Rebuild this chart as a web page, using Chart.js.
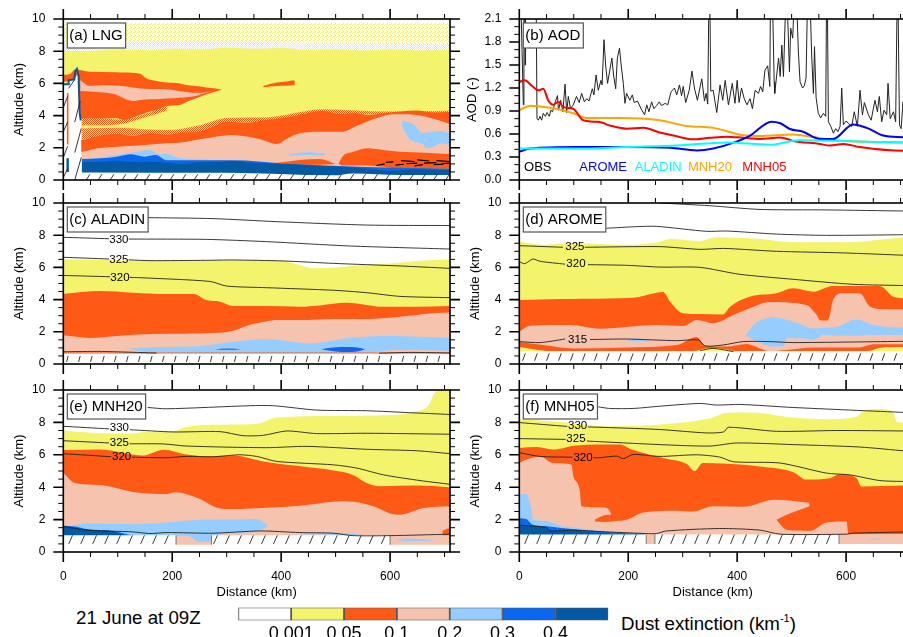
<!DOCTYPE html>
<html>
<head>
<meta charset="utf-8">
<title>Dust extinction cross-sections</title>
<script src="https://cdn.jsdelivr.net/npm/chart.js@4"></script>
<style>
html, body { margin: 0; padding: 0; width: 903px; height: 637px; overflow: hidden; background: #fff; }
canvas { position: absolute; }
.note { position: absolute; font-family: "Liberation Sans", Arial, sans-serif; color: #000; white-space: nowrap; }
sup { font-size: 11px; vertical-align: 8px; line-height: 0; }
</style>
</head>
<body>
<div class="note" style="left:76px;top:607px;font-size:18.7px">21 June at 09Z</div>
<div class="note" style="left:621px;top:613px;font-size:18.7px">Dust extinction (km<sup>-1</sup>)</div>
<script>
'use strict';

// colour bar
const levelLabels = ['0.001', '0.05', '0.1', '0.2', '0.3', '0.4'];
const binColors = ['#ffffff', '#f4f36c', '#fe5a16', '#f6c4ae', '#96cdff', '#0a68f0', '#035aa2'];
const [WHITE, YELLOW, ORANGE, PEACH, SKY, BLUE, NAVY] = binColors;

// axes
const distanceLabels = [0, 200, 400, 600];
const altitudeLabels = [0, 2, 4, 6, 8, 10];

// (b) AOD: [km, AOD]
const obsAod = [[3,2.3],[7.4,0.98],[8.5,2.3],[10,2.3],[10.5,1.5],[11.5,2.3],[31,2.3],[32.5,0.8],[35,0.78],[38,0.83],[41,0.78],[44,0.87],[48,0.83],[51,0.88],[55,0.83],[58,0.91],[61,0.89],[65.5,1.01],[70,1.1],[72,0.91],[76,1.04],[80,0.89],[84,1.25],[87,0.88],[90,1.09],[94,0.93],[99,0.98],[105,1.09],[110,1.01],[114.5,1.13],[119.4,1.02],[124,1.06],[128,1.03],[134,1.19],[137,1.11],[141,1.37],[145,1.17],[150,1.3],[152,1.24],[155.5,1.83],[158.5,1.5],[162,1.26],[170,1.59],[173,1.37],[177,1.19],[180,1.59],[184,1.72],[187,1.5],[191,1.26],[194,1.0],[197,1.13],[203,1.04],[207.5,1.11],[211,1.01],[217,1.03],[223.5,0.93],[230,0.85],[234,0.98],[238,0.89],[243,1.02],[247,0.93],[252,0.97],[257,1.02],[261,0.97],[268,1.0],[272.5,0.98],[278.6,1.15],[285,1.2],[289,1.11],[294,1.24],[298,1.1],[301,1.22],[305.5,1.01],[312,1.17],[317,1.42],[321.5,1.2],[327,1.04],[335,1.32],[340,1.03],[343,1.13],[346,0.99],[348,2.3],[350,2.3],[351.5,1.16],[356,1.17],[362.5,0.88],[368.6,1.24],[373.5,1.04],[378,1.3],[384,0.98],[391,1.26],[396,1.0],[400,1.3],[403.5,1.01],[408,1.2],[413,1.06],[418,0.98],[423.7,1.06],[428,0.93],[433,1.17],[439,1.13],[443,1.22],[447,1.15],[451,1.43],[456,1.49],[460,1.22],[461,2.3],[465,2.3],[468,1.28],[469,1.13],[476,1.59],[479,1.35],[482,1.76],[485,1.35],[489,2.3],[492,2.3],[496,1.41],[498.3,1.98],[502,1.85],[504.5,2.3],[509.4,2.3],[512.4,1.67],[515.5,1.28],[520,1.2],[523.4,1.23],[526.5,1.33],[529,2.3],[534,2.3],[537,1.59],[540,1.13],[542,1.74],[545,1.07],[549,0.87],[553.4,0.81],[558.3,0.87],[562.6,0.83],[564,2.3],[565.7,2.3],[567.5,0.76],[572,0.7],[576.7,0.61],[581,0.67],[585,0.63],[589,0.7],[592,1.2],[595,0.72],[600,0.77],[604,0.74],[610.3,0.7],[615,0.89],[620.7,0.7],[625.6,1.17],[630,0.85],[633.6,1.01],[641,0.85],[646,0.78],[653,1.04],[657.5,0.89],[661,1.09],[665.4,0.76],[669.7,0.91],[674.6,0.85],[677,1.26],[681,0.8],[687,0.89],[691,0.76],[693.6,2.3],[695.4,2.3],[698,0.72],[701,0.67],[704.6,1.02],[707,0.78],[710,1.0]];
const mnh05Aod = [[0,1.28],[10,1.3],[23,1.23],[35,1.17],[44,1.19],[53,1.04],[62,0.98],[72,1.02],[81,0.95],[99,0.93],[117,0.78],[136,0.76],[151,0.75],[166,0.71],[197,0.67],[228,0.68],[258,0.62],[289,0.57],[319,0.53],[350,0.55],[381,0.565],[411,0.55],[442,0.535],[479,0.555],[503,0.51],[552,0.47],[570,0.45],[595,0.47],[625,0.43],[704,0.38],[710,0.38]];
const mnh20Aod = [[0,0.91],[20,0.97],[62,0.935],[99,0.87],[124,0.81],[185,0.81],[258,0.78],[307,0.705],[356,0.68],[411,0.585],[442,0.575],[503,0.595],[540,0.56],[583,0.515],[710,0.49]];
const aromeAod = [[0,0.37],[20,0.41],[105,0.43],[197,0.43],[277,0.42],[326,0.385],[356,0.41],[399,0.5],[423,0.575],[463,0.76],[479,0.74],[497,0.665],[521,0.63],[552,0.535],[576,0.535],[613,0.725],[638,0.68],[668,0.58],[704,0.557],[710,0.555]];
const aladinAod = [[0,0.41],[105,0.41],[197,0.43],[289,0.45],[381,0.49],[460,0.46],[515,0.52],[595,0.51],[710,0.485]];
const aodLegendNames = ['OBS', 'AROME', 'ALADIN', 'MNH20', 'MNH05'];
const aodLegendColors = ['#000000', '#0000ff', '#00ffff', '#ffa500', '#ff0000'];
const aodLegendKm = [34, 154, 255, 350, 450];

// (a) LNG: [km, top] or [km, top, bottom]
const aSpeckle = [[0,9.75,8],[710,9.75,8]];
const aSpeckleDense = [[0,8.5,8],[200,8.6,8],[400,8.55,8],[710,8.45,8]];
const aYellow = [[0,8.0],[60,8.03],[100,8.1],[160,8.06],[200,8.15],[260,8.12],[300,8.22],[350,8.15],[400,8.2],[450,8.08],[500,8.12],[550,8.04],[600,8.12],[650,8.05],[710,8.08]];
const aFringe = [[34,3.2,2.5],[100,3.25,2.8],[190,3.1,2.7],[250,3.4,2.9],[300,3.85,3.5],[373,3.9,3.6],[477,4.4,4.1],[600,4.25,4.1],[710,4.3,4.2]];
const aFringeHigh = [[34,3.9,3.4],[70,3.85,3.4],[110,3.75,3.5],[150,4.1,3.9],[190,4.6,4.3]];
const aOrangeHigh = [[0,6.52,6.1],[13,6.6,6.1],[21,6.87,3.83],[49,6.73,3.83],[98,6.7,3.83],[110,6.68,3.73],[141,6.6,4.04],[153,6.3,4.2],[171,6.15,4.35],[190,6.05,4.6],[214,6.0,4.66],[226,5.9,4.85],[239,5.85,5.01],[263,5.75,5.32],[280,5.68,5.5],[291,5.62,5.6]];
const aPeachHigh = [[31,6.2,5.53],[49,5.84,5.5],[73,5.88,5.44],[98,5.86,5.3],[104,5.85,5.18],[128,5.75,4.9],[141,5.69,4.97],[177,5.65,5.03],[190,5.63,5.06],[214,5.52,5.11],[245,5.42,5.24],[263,5.45,5.42],[272,5.55,5.53]];
const aOrangeDot = [[367,5.84,5.76],[392,6.05,5.84],[410,6.12,5.85],[425,6.19,5.9]];
const aOrangeLow = [[0,2.48],[34,2.48],[60,2.7],[98,2.86],[130,2.75],[160,2.9],[190,2.8],[220,2.95],[251,3.0],[275,3.3],[300,3.62],[335,3.55],[373,3.73],[405,3.85],[434,4.04],[455,4.2],[477,4.29],[505,4.1],[532,4.15],[560,4.05],[588,4.14],[620,4.25],[649,4.31],[680,4.2],[710,4.24]];
const aPeachLow = [[0,1.76],[34,1.76],[60,1.95],[98,2.07],[140,2.15],[190,2.28],[220,2.35],[251,2.53],[285,2.72],[312,2.8],[340,2.68],[361,2.53],[392,2.24],[412,2.6],[434,2.9],[471,3.0],[514,3.0],[535,3.3],[557,3.62],[580,3.9],[606,4.08],[649,4.04],[680,3.8],[710,3.48]];
const aOrangeRight = [[505,1.0,1.0],[514,1.5,0.9],[530,1.72,0.9],[557,1.97,0.9],[590,1.85,0.8],[618,1.76,0.7],[665,1.7,0.7],[710,1.61,0.7]];
const aOrangeThin = [[390,1.05,1.05],[434,1.25,0.95],[470,1.3,0.95],[500,1.0,1.0]];
const aSkyHigh = [[622,3.68,3.31],[637,3.55,2.48],[643,3.48,2.4],[661,2.9,2.2],[667,2.95,1.97],[679,3,2.05],[692,3.05,2.28],[710,2.9,2.17]];
const aSkyLow = [[34,1.24,0.9],[70,1.4,0.9],[98,1.55,0.9],[125,1.7,0.9],[159,1.86,0.9],[175,1.6,0.9],[190,1.61,0.9],[214,1.35,0.9],[263,1.28,0.9],[324,1.03,0.9]];
const aSkyBit = [[415,1.62,1.5],[450,1.72,1.55],[480,1.65,1.5]];
const aBlue = [[34,1.3],[70,1.35],[98,1.45],[125,1.6],[150,1.45],[170,1.55],[190,1.22],[312,1.22],[404,1.03],[557,0.8],[710,0.7]];
const aNavy = [[34,1.1],[65,1.14],[98,1.2],[130,1.12],[159,1.14],[190,1.08],[215,1.0],[250,1.1],[285,1.12],[312,1.18],[345,1.06],[375,1.03],[404,0.99],[435,0.95],[465,0.89],[510,0.82],[557,0.72],[600,0.58],[625,0.62],[649,0.68],[680,0.62],[710,0.62]];
const aTerrain = [[0,5.95],[9,5.95],[10,6.2],[21,6.25],[25,6.5],[28,6.4],[30,4.0],[32,3.7],[33.5,1.1],[34,0.47],[300,0.45],[496,0.29],[532,0.41],[618,0.31],[710,0.31]];
const aPeakEdge = [[0,5.95],[9,5.95],[10,6.2],[20,6.25],[22,6.75],[25,6.9],[28,6.5],[30,4.2],[32,3.7]];
const aOrangeBar = [[8,2.2],[8,5.4]];
const aNavyBar = [[8,0.5],[8,1.35]];
const aTallHatch = [[0,3],[8,3.6],null,[0,1.4],[8,2.1],null,[0,0.15],[8,0.7],null,[0,4.5],[8,5.2],null,[21,0],[33,1.4],null,[21,1.7],[33,3.2],null,[21,3.6],[31,4.9],null,[10,5.7],[21,6.25]];
const aSpecks = [[575,0.9],[590,1.0],null,[592,1.1],[606,1.12],null,[610,0.92],[625,0.98],null,[620,1.2],[645,1.15],null,[630,1.02],[650,1.05],null,[645,0.88],[660,0.95],null,[650,1.25],[672,1.18],null,[662,1.05],[685,1.08],null,[680,0.95],[698,0.98],null,[685,1.2],[710,1.15],null,[695,1.02],[710,1.05]];

// (c) ALADIN
const cYellow = [[0,6.5],[100,6.45],[200,6.4],[300,6.45],[400,6.4],[430,6.2],[459,5.95],[500,6.0],[550,6.15],[600,6.25],[650,6.4],[710,6.5]];
const cOrange = [[0,4.35],[67,4.53],[128,4.43],[190,4.35],[239,4.35],[263,3.97],[288,3.87],[312,3.6],[373,3.6],[434,3.56],[471,3.64],[520,3.8],[557,3.66],[581,3.56],[649,3.56],[710,3.6]];
const cPeach = [[0,1.78],[49,1.62],[98,1.74],[159,1.86],[220,1.88],[275,1.92],[312,2.07],[337,2.38],[374,2.65],[392,2.73],[434,2.73],[496,2.8],[557,2.8],[618,2.94],[679,3.15],[710,3.2]];
const cSky = [[116,0.93,0.93],[145,1.03,0.78],[171,1.06,0.72],[239,1.08,0.68],[312,1.38,0.66],[374,1.55,0.68],[410,1.43,0.68],[453,1.28,0.68],[526,1.63,0.7],[557,1.7,0.7],[581,1.74,0.78],[606,1.74,0.87],[649,1.7,0.87],[710,1.63,0.83]];
const cBlueA = [[278,0.92,0.92],[302,0.97,0.88],[327,0.92,0.92]];
const cBlueB = [[474,0.92,0.92],[500,1.04,0.78],[520,1.06,0.75],[540,1.02,0.78],[554,0.9,0.9]];
const cStrip = [[0,0.72],[710,0.72]];
const cTerrain = [[0,0.65],[710,0.65]];
const cLine1 = [[155,9.09],[275,9.03],[392,8.84],[557,8.63],[710,8.6]];
const cLine2 = [[0,7.87],[84,7.78],null,[120,7.76],[263,7.74],[373,7.6],[526,7.33],[710,7.14]];
const cLine3 = [[0,6.63],[84,6.52],null,[120,6.47],[159,6.42],[263,6.44],[312,6.46],[404,6.4],[496,6.25],[618,6.09],[710,5.94]];
const cLine4 = [[0,5.5],[86,5.42],null,[122,5.38],[141,5.36],[269,5.13],[300,4.84],[373,4.74],[496,4.58],[557,4.43],[618,4.2],[710,4.12]];
const cLine5 = [[0,0.76],[70,0.78],[171,0.68],null,[580,0.67],[640,0.72],[710,0.68]];
const cTags = [[102,7.72,'330'],[102,6.46,'325'],[104,5.34,'320']];

// (d) AROME
const dYellow = [[0,7.6],[44,7.4],[93,7.5],[197,7.4],[252,7.54],[277,7.76],[332,7.64],[362,7.87],[442,7.76],[503,7.56],[607,7.56],[656,7.7],[710,7.9]];
const dOrange = [[0,3.98],[75,4.04],[117,4.06],[209,4.12],[252,4.43],[264,4.47],[277,3.87],[301,3.15],[332,3.1],[374,3.08],[387,3.56],[423,4.18],[472,4.39],[503,4.7],[540,4.49],[576,4.84],[662,4.84],[687,4.18],[710,4.08]];
const dPeach = [[0,2.0],[20,2.38],[93,2.42],[148,2.19],[252,2.42],[301,2.36],[326,2.73],[356,2.53],[393,3.04],[423,3.46],[460,3.85],[527,3.66],[546,3.04],[552,2.72],[565,2.7],[570,3.0],[576,3.98],[595,4.39],[625,4.39],[644,3.56],[674,3.4],[710,3.4]];
const dSkyBit = [[197,1.42,1.4],[215,1.58,1.42],[240,1.45,1.4]];
const dSky = [[416,1.8,1.8],[436,2.63,1.38],[442,2.7,1.33],[460,2.9,1.08],[466,2.92,1.08],[485,2.8,1.08],[491,2.75,1.6],[503,2.63,1.6],[515,2.5,1.6],[540,2.2,1.5],[558,2.25,1.8],[583,2.32,1.76],[619,2.77,1.76],[650,2.42,1.8],[687,2.28,1.8],[710,2.26,1.8]];
const dOrangeLow = [[0,1.37],[44,1.18],[99,0.97],[197,1.03],[289,1.18],[326,1.68],[341,1.12],[381,1.08],[417,1.24],[442,0.97],[460,0.8],[491,0.87],[540,1.03],[625,1.03],[650,1.22],[710,1.22]];
const dYellowLow = [[0,1.05],[20,0.95],[60,0.8],[320,0.8],[340,0.95],[356,1.0],[380,0.92],[400,0.8],[640,0.8],[660,1.0],[710,1.05]];
const dTerrain = [[0,0.77],[710,0.77]];
const dLine1 = [[258,10],[350,9.83],[442,9.6],[564,9.57],[710,9.5]];
const dLine2 = [[160,8.43],[215,8.53],[252,8.55],[344,8.24],[381,8.26],[472,8.07],[564,7.99],[710,8.03]];
const dLine3 = [[0,7.35],[80,7.25],null,[120,7.25],[258,7.29],[332,7.12],[375,7.18],[472,7],[595,6.9],[710,6.75]];
const dLine4 = [[0,6.36],[10,6.23],[25,6.52],[38,6.38],[84,6.2],null,[126,6.17],[197,6.13],[258,6.02],[332,6.0],[405,5.57],[503,5.26],[613,4.95],[710,4.87]];
const dLine5 = [[0,1.39],[38,1.33],[84,1.55],null,[130,1.52],[197,1.55],[289,1.45],[329,1.49],[341,1.12],[374,1.18],[411,1.39],[460,1.39],[503,1.33],[710,1.41]];
const dLine6 = [[332,0.83],[356,0.97],[393,0.77]];
const dTags = [[102,7.25,'325'],[104,6.2,'320'],[107,1.52,'315']];

// (e) MNH20
const eYellow = [[0,7.5],[31,7.4],[116,7.3],[153,7.4],[202,7.45],[223,7.7],[275,7.85],[355,7.9],[392,8.3],[496,8.39],[600,8.45],[643,8.65],[673,9.17],[679,9.69],[688,9.96],[710,10]];
const eOrange = [[0,6.29],[67,6.33],[147,5.96],[184,6.31],[226,6.02],[275,5.9],[312,5.96],[373,5.55],[447,5.24],[496,5.03],[532,4.76],[557,4.26],[581,4.06],[649,4.1],[710,4.0]];
const ePeach = [[0,4.89],[21,4.26],[67,4.14],[92,4],[128,3.7],[190,3.58],[205,3.69],[251,3.27],[281,2.75],[312,2.65],[373,2.73],[434,2.86],[496,3.1],[520,3.13],[569,2.82],[600,2.38],[618,2.3],[661,2.71],[710,2.82]];
const eSky = [[0,1.55,1.0],[49,1.76,1.0],[128,1.72,1.0],[190,1.82,1.0],[226,1.93,1.0],[251,1.98,0.62],[269,2.0,0.64],[281,2.0,1.03],[355,2.03,1.25],[376,1.61,1.6]];
const eSkyThin = [[435,1.15,1.08],[480,1.2,1.08],[520,1.15,1.03],[545,1.08,1.03]];
const eSkyDot = [[608,0.74,0.74],[630,0.83,0.68],[660,0.78,0.68],[680,0.72,0.72]];
const eBlue = [[0,1.62],[21,1.58],[43,1.42],[92,1.3],[125,1.03]];
const eNavy = [[0,1.57],[21,1.52],[43,1.37],[92,1.26],[113,1.03]];
const eOrangeDot = [[696,1.3,1.03],[703,1.42,1.03],[710,1.47,1.03]];
const eTerrainLow = [[0,0.45],[710,0.45]];
const eHatchA = [[0,1.03],[207,1.03]];
const eHatchB = [[272,1.03],[600,1.03]];
const eEdges = [[207,0.45],[207,1.03],null,[272,0.45],[272,1.03],null,[600,0.45],[600,1.03]];
const eLine1 = [[155,8.92],[190,8.84],[343,9.03],[386,9.03],[465,8.76],[557,8.72],[636,8.6],[710,8.49]];
const eLine2 = [[0,7.76],[84,7.6],null,[122,7.55],[202,7.41],[288,7.43],[330,7.18],[367,7.2],[410,7.47],[465,7.31],[557,7.33],[710,7.27]];
const eLine3 = [[0,6.87],[84,6.73],null,[122,6.68],[184,6.67],[226,6.54],[373,6.44],[447,6.52],[557,6.34],[649,6.25],[710,6.07]];
const eLine4 = [[0,6.07],[88,5.88],null,[126,5.85],[190,5.82],[226,5.9],[275,5.88],[324,6],[355,5.9],[392,5.59],[496,5.38],[539,5.18],[588,4.76],[655,4.41],[710,4.18]];
const eLine5 = [[0,1.57],[43,1.35],[128,1.24],[159,1.14],[190,1.2],[275,1.16],[361,1.3],[434,1.2],[496,1.16],[532,1.01],[600,1.01],[710,1.1]];
const eTags = [[103,7.68,'330'],[103,6.72,'325'],[107,5.86,'320']];

// (f) MNH05
const fYellow = [[0,8.2],[75,8.03],[166,7.76],[258,7.87],[350,8.24],[381,8.59],[423,8.61],[503,8.3],[564,8.2],[619,8.34],[632,8.72],[662,8.82],[687,8.59],[693,8.03],[710,8.0]];
const fOrange = [[0,6.42],[32,6.48],[62,6.33],[105,6.58],[185,6.63],[203,6.38],[240,6],[270,5.76],[307,5.44],[322,4.99],[337,5.49],[381,5.44],[442,5.28],[503,4.93],[527,4.47],[570,4.55],[588,4.8],[619,4.57],[628,4.04],[710,4.1]];
const fPeach = [[0,5.5],[13,5.71],[38,5.9],[62,5.5],[96,5.38],[99,4.72],[111,3.79],[114,2.82],[154,2.75],[166,2.55],[170,2.2],[178,1.92],[197,1.99],[228,2.44],[289,2.55],[319,2.5],[356,2.82],[411,2.8],[469,3.23],[530,3.06],[533,2.82],[534,1.3],[564,1.82],[601,1.88],[604,1.1],[710,1.1]];
const fOrangeTongue = [[139,2.0,1.88],[155,2.25,1.85],[170,2.3,1.88],[178,1.92,1.92]];
const fOrangeWedge = [[472,1.99,1.99],[491,2.3,1.37],[534,2.84,1.3]];
const fSky = [[0,3.58],[13,3.58],[21,2.86],[26,1.99],[50,1.93],[75,1.61],[99,1.51],[150,1.3],[225,1.15]];
const fBlue = [[0,2.09],[13,2.03],[23,1.72],[47,1.6],[100,1.4],[166,1.22],[230,1.12]];
const fNavy = [[0,1.66],[20,1.61],[49,1.55],[55,1.3],[99,1.35],[124,1.24],[166,1.14]];
const fPeachFoot = [[587,1.1],[710,1.1]];
const fSkyDot = [[640,0.78,0.78],[652,0.83,0.75],[665,0.78,0.78]];
const fTerrainLow = [[0,0.5],[710,0.5]];
const fHatchA = [[0,1.08],[233,1.08]];
const fHatchB = [[249,1.08],[587,1.08]];
const fEdges = [[233,0.5],[233,1.08],null,[249,0.5],[249,1.08],null,[587,0.5],[587,1.08]];
const fLine1 = [[145,8.96],[166,8.86],[209,8.86],[258,9.0],[332,9.17],[362,9.07],[405,9.11],[503,8.92],[710,8.61]];
const fLine2 = [[0,7.99],[88,7.75],null,[126,7.72],[166,7.68],[258,7.56],[344,7.35],[375,7.41],[384,7.7],[472,7.45],[583,7.5],[710,7.47]];
const fLine3 = [[0,7],[85,6.95],null,[124,6.85],[258,6.63],[350,6.54],[399,6.73],[503,6.63],[625,6.48],[710,6.23]];
const fLine4 = [[0,6.13],[38,5.9],[98,5.85],null,[136,5.82],[148,5.82],[179,5.92],[191,5.76],[209,6.02],[258,5.9],[326,6],[368,5.86],[393,5.57],[479,5.49],[564,4.87],[607,4.76],[662,4.41],[710,4.35]];
const fLine5 = [[0,1.66],[50,1.51],[56,1.3],[99,1.35],[148,1.26],[233,1.14],[252,1.14],[270,1.3],[368,1.45],[442,1.35],[479,1.1],[600,1.1],[613,1.16],[710,1.24]];
const fTags = [[107,7.76,'330'],[104,6.98,'325'],[117,5.84,'320']];

function xy(rows) {
    return rows.map(r => r ? { x: r[0], y: r[1] } : { x: null, y: null });
}

function stipple(dot, ground, cells) {
    const c = document.createElement('canvas');
    c.width = 4; c.height = 4;
    const g = c.getContext('2d');
    g.fillStyle = ground;
    g.fillRect(0, 0, 4, 4);
    g.fillStyle = dot;
    cells.forEach(p => g.fillRect(p[0], p[1], 1, 1));
    return g.createPattern(c, 'repeat');
}

// filled contour region: to the ground for [km, top], between two curves for [km, top, bottom]
function area(rows, color) {
    const base = { pointRadius: 0, borderWidth: 0, cubicInterpolationMode: 'monotone' };
    if (rows[0].length === 2) {
        return [Object.assign({}, base, { data: xy(rows), fill: 'origin', backgroundColor: color })];
    }
    return [
        Object.assign({}, base, { data: xy(rows), fill: '+1', backgroundColor: color }),
        Object.assign({}, base, { data: rows.map(r => ({ x: r[0], y: r[2] })), fill: false })
    ];
}

function line(rows, color, width, mono) {
    return [{
        data: xy(rows), borderColor: color, borderWidth: width, pointRadius: 0, fill: false,
        cubicInterpolationMode: mono ? 'monotone' : 'default', tension: 0
    }];
}

function contour(rows) {
    return line(rows, '#222', 0.9, false).map(d => Object.assign(d, { tension: 0.25 }));
}

// terrain slashes between two heights
function hatch(from, to, low, high, lean) {
    const rows = [];
    for (let x = from; x + lean <= to; x += 22) {
        rows.push([x, low], [x + lean, high], null);
    }
    return line(rows, '#222', 0.9, false);
}

const panelFrame = {
    id: 'panelFrame',
    afterDraw(chart, args, o) {
        const ctx = chart.ctx;
        const a = chart.chartArea;
        const xs = chart.scales.x;
        const ys = chart.scales.y;
        ctx.save();
        ctx.strokeStyle = '#000';

        (o.tags || []).forEach(t => {
            ctx.font = '11.5px "Liberation Sans"';
            ctx.textAlign = 'center';
            ctx.textBaseline = 'middle';
            ctx.fillStyle = '#000';
            ctx.fillText(t[2], xs.getPixelForValue(t[0]), ys.getPixelForValue(t[1]));
        });

        (o.words || []).forEach(t => {
            ctx.font = '13px "Liberation Sans"';
            ctx.textAlign = 'center';
            ctx.textBaseline = 'middle';
            ctx.fillStyle = t[3];
            ctx.fillText(t[2], xs.getPixelForValue(t[0]), ys.getPixelForValue(t[1]));
        });

        xs.ticks.forEach(t => {
            const major = distanceLabels.includes(t.value);
            const len = major ? 10 : 5;
            const px = xs.getPixelForValue(t.value);
            ctx.lineWidth = major ? 1.6 : 1;
            ctx.beginPath();
            ctx.moveTo(px, a.top); ctx.lineTo(px, a.top - len);
            ctx.moveTo(px, a.bottom); ctx.lineTo(px, a.bottom + len);
            ctx.stroke();
        });
        ys.ticks.forEach(t => {
            const major = o.isMajorY(t.value);
            const len = major ? 10 : 5;
            const py = ys.getPixelForValue(t.value);
            ctx.lineWidth = major ? 1.6 : 1;
            ctx.beginPath();
            ctx.moveTo(a.left, py); ctx.lineTo(a.left - len, py);
            ctx.moveTo(a.right, py); ctx.lineTo(a.right + len, py);
            ctx.stroke();
        });
        ctx.lineWidth = 1.6;
        ctx.strokeRect(a.left, a.top, a.right - a.left, a.bottom - a.top);

        // panel name box
        ctx.font = '15px "Liberation Sans"';
        ctx.textAlign = 'left';
        ctx.textBaseline = 'middle';
        const w = ctx.measureText(o.name).width + 5;
        ctx.fillStyle = '#fff';
        ctx.fillRect(a.left + 4, a.top + 4, w, 25);
        ctx.strokeStyle = '#555';
        ctx.lineWidth = 1.2;
        ctx.strokeRect(a.left + 4, a.top + 4, w, 25);
        ctx.fillStyle = '#000';
        ctx.fillText(o.name, a.left + 6, a.top + 17);
        ctx.restore();
    }
};

function noPadding(s) {
    s.paddingTop = 0;
    s.paddingBottom = 0;
    s.paddingLeft = 0;
    s.paddingRight = 0;
}

function panel(id, spec) {
    const canvas = document.createElement('canvas');
    canvas.id = id;
    canvas.width = 462;
    canvas.height = spec.labelled ? 224 : 186;
    canvas.style.left = spec.left + 'px';
    canvas.style.top = spec.top + 'px';
    document.body.appendChild(canvas);

    const sets = spec.sets.flat();
    sets.forEach((d, i) => { d.order = sets.length - i; });

    return new Chart(canvas, {
        type: 'line',
        data: { datasets: sets },
        plugins: [panelFrame],
        options: {
            responsive: false,
            animation: false,
            events: [],
            layout: { padding: { left: spec.titleLeft, right: 12, top: 14, bottom: 0 } },
            plugins: {
                legend: { display: false },
                tooltip: { enabled: false },
                panelFrame: { name: spec.name, tags: spec.tags, words: spec.words, isMajorY: spec.isMajorY }
            },
            scales: {
                x: {
                    type: 'linear', min: 0, max: 710,
                    grid: { display: false, drawTicks: false }, border: { display: false },
                    ticks: {
                        stepSize: 50, includeBounds: false, autoSkip: false, maxRotation: 0, padding: 17,
                        color: '#000', font: { size: 12, family: 'Liberation Sans' },
                        callback: v => (spec.labelled && distanceLabels.includes(v)) ? String(v) : ''
                    },
                    title: {
                        display: !!spec.labelled, text: 'Distance (km)', color: '#000',
                        font: { size: 13, family: 'Liberation Sans' }, padding: 0
                    },
                    afterFit(s) { s.height = spec.labelled ? 48 : 11; noPadding(s); }
                },
                y: {
                    min: 0, max: spec.yMax,
                    grid: { display: false, drawTicks: false }, border: { display: false },
                    ticks: {
                        stepSize: spec.yStep, includeBounds: false, autoSkip: false, padding: 18,
                        color: '#000', font: { size: 12, family: 'Liberation Sans' },
                        callback: spec.yLabel
                    },
                    title: {
                        display: true, text: spec.yTitle, color: '#000',
                        font: { size: 13, family: 'Liberation Sans' }, padding: 0
                    },
                    afterFit(s) { s.width = 63.3 - spec.titleLeft; noPadding(s); }
                }
            }
        }
    });
}

const altitudeAxis = {
    yMax: 10, yStep: 0.5, yTitle: 'Altitude (km)', titleLeft: 12,
    isMajorY: v => altitudeLabels.includes(v),
    yLabel: v => altitudeLabels.includes(v) ? String(v) : ''
};

const halfCells = [[0,0],[2,0],[1,1],[3,1],[0,2],[2,2],[1,3],[3,3]];
const thinCells = [[0,0],[2,1],[3,2],[1,3],[2,3]];
const speckle = stipple(YELLOW, '#ffffff', thinCells);
const speckleDense = stipple(YELLOW, '#ffffff', halfCells);
const orangeSpeckle = stipple(YELLOW, ORANGE, halfCells);

panel('panelA', Object.assign({}, altitudeAxis, {
    left: 0, top: 5, name: '(a) LNG',
    sets: [
        area(aSpeckle, speckle), area(aSpeckleDense, speckleDense), area(aYellow, YELLOW), area(aFringe, orangeSpeckle), area(aFringeHigh, orangeSpeckle),
        area(aOrangeHigh, ORANGE), area(aPeachHigh, PEACH), area(aOrangeDot, ORANGE),
        area(aOrangeLow, ORANGE), area(aPeachLow, PEACH), area(aOrangeRight, ORANGE), area(aOrangeThin, ORANGE),
        area(aSkyHigh, SKY), area(aSkyLow, SKY), area(aSkyBit, SKY), area(aBlue, BLUE), area(aNavy, NAVY),
        line(aSpecks, '#000', 1.2), area(aTerrain, WHITE),
        line(aOrangeBar, ORANGE, 1.6), line(aNavyBar, NAVY, 2.4), line(aPeakEdge, NAVY, 2),
        line(aTallHatch, '#222', 0.9), hatch(42, 710, 0, 0.36, 7)
    ]
}));

panel('panelB', {
    left: 456, top: 5, name: '(b) AOD', yMax: 2.1, yStep: 0.1, yTitle: 'AOD (-)', titleLeft: 9,
    isMajorY: v => Math.round(v * 10) % 3 === 0,
    yLabel: v => Math.round(v * 10) % 3 === 0 ? v.toFixed(1) : '',
    words: aodLegendNames.map((n, i) => [aodLegendKm[i], 0.16, n, aodLegendColors[i]]),
    sets: [
        line(obsAod, '#222', 1), line(mnh20Aod, '#ffa500', 2, true), line(mnh05Aod, '#ff0000', 2, true),
        line(aromeAod, '#0000ff', 2, true), line(aladinAod, '#00ffff', 2, true)
    ]
});

panel('panelC', Object.assign({}, altitudeAxis, {
    left: 0, top: 189, name: '(c) ALADIN', tags: cTags,
    sets: [
        area(cYellow, YELLOW), area(cOrange, ORANGE), area(cPeach, PEACH), area(cSky, SKY),
        area(cBlueA, BLUE), area(cBlueB, BLUE), area(cStrip, ORANGE),
        area(cTerrain, WHITE), contour(cLine1), contour(cLine2), contour(cLine3), contour(cLine4), contour(cLine5),
        hatch(6, 710, 0.13, 0.5, 3)
    ]
}));

panel('panelD', Object.assign({}, altitudeAxis, {
    left: 456, top: 189, name: '(d) AROME', tags: dTags,
    sets: [
        area(dYellow, YELLOW), area(dOrange, ORANGE), area(dPeach, PEACH), area(dSkyBit, SKY), area(dSky, SKY),
        area(dOrangeLow, ORANGE), area(dYellowLow, YELLOW), area(dTerrain, WHITE),
        contour(dLine1), contour(dLine2), contour(dLine3), contour(dLine4), contour(dLine5), contour(dLine6),
        hatch(6, 710, 0.2, 0.66, 5)
    ]
}));

panel('panelE', Object.assign({}, altitudeAxis, {
    left: 0, top: 376, name: '(e) MNH20', labelled: true, tags: eTags,
    sets: [
        area(eYellow, YELLOW), area(eOrange, ORANGE), area(ePeach, PEACH), area(eSky, SKY), area(eSkyThin, SKY),
        area(eSkyDot, SKY), area(eBlue, BLUE), area(eNavy, NAVY), area(eOrangeDot, ORANGE),
        area(eTerrainLow, WHITE), area(eHatchA, WHITE), area(eHatchB, WHITE), line(eEdges, '#777', 1),
        contour(eLine1), contour(eLine2), contour(eLine3), contour(eLine4), contour(eLine5),
        hatch(10, 207, 0.5, 1.03, 7), hatch(276, 600, 0.5, 1.03, 7)
    ]
}));

panel('panelF', Object.assign({}, altitudeAxis, {
    left: 456, top: 376, name: '(f) MNH05', labelled: true, tags: fTags,
    sets: [
        area(fYellow, YELLOW), area(fOrange, ORANGE), area(fPeach, PEACH), area(fOrangeTongue, ORANGE), area(fOrangeWedge, ORANGE),
        area(fSky, SKY), area(fBlue, BLUE), area(fNavy, NAVY), area(fPeachFoot, PEACH), area(fSkyDot, SKY),
        area(fTerrainLow, WHITE), area(fHatchA, WHITE), area(fHatchB, WHITE), line(fEdges, '#777', 1),
        contour(fLine1), contour(fLine2), contour(fLine3), contour(fLine4), contour(fLine5),
        hatch(10, 233, 0.5, 1.08, 7), hatch(256, 587, 0.5, 1.08, 7)
    ]
}));

// colour bar as one stacked horizontal bar
const barCanvas = document.createElement('canvas');
barCanvas.width = 400;
barCanvas.height = 50;
barCanvas.style.left = '228px';
barCanvas.style.top = '600px';
document.body.appendChild(barCanvas);

new Chart(barCanvas, {
    type: 'bar',
    data: {
        labels: ['dust'],
        datasets: binColors.map(color => ({
            data: [1], backgroundColor: color, borderColor: '#555', borderWidth: 1.2, borderSkipped: false,
            barPercentage: 1, categoryPercentage: 1
        }))
    },
    options: {
        indexAxis: 'y',
        responsive: false,
        animation: false,
        events: [],
        layout: { padding: { left: 10.3, right: 19.7, top: 7.5, bottom: 0 } },
        plugins: { legend: { display: false }, tooltip: { enabled: false } },
        scales: {
            y: { stacked: true, display: false },
            x: {
                stacked: true, min: 0, max: 7,
                grid: { display: false, drawTicks: false }, border: { display: false },
                ticks: {
                    stepSize: 1, padding: 3, maxRotation: 0, autoSkip: false,
                    color: '#000', font: { size: 18, family: 'Liberation Sans' },
                    callback: v => levelLabels[v - 1] || ''
                },
                afterFit(s) { s.height = 29.5; noPadding(s); }
            }
        }
    }
});
</script>
</body>
</html>
